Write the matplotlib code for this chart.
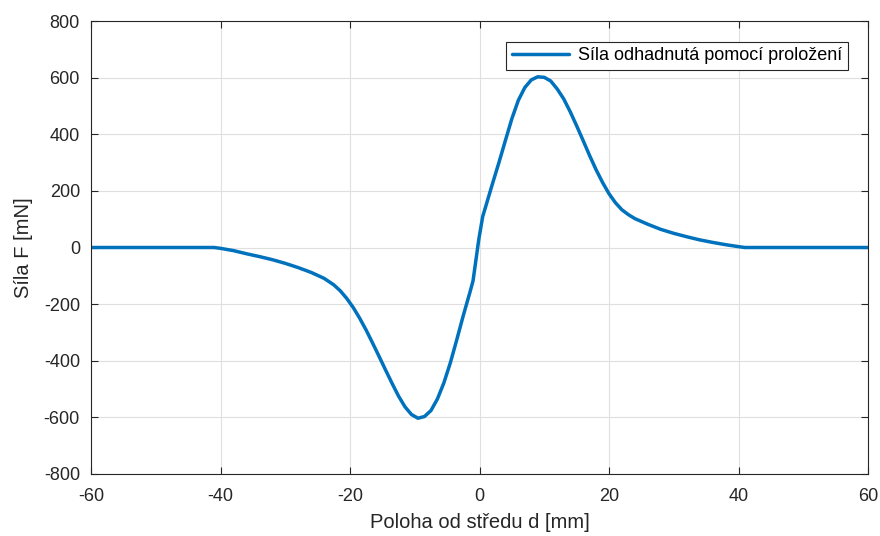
import matplotlib
matplotlib.use('Agg')
import matplotlib.pyplot as plt

# Odhad síly z proložení
poloha_mm = [-60, -50, -41, -40, -39, -38, -36, -34, -32, -30, -28, -26, -24, -22.5, -21.5,
             -20.5, -19.5, -18.5, -17.5, -16.5, -15.5, -14.5, -13.5, -12.5, -11.5,
             -10.5, -9.5, -8.5, -7.5, -6.5, -5.5, -4.5, -3.5, -2.5, -1.5, -1.0,
             -0.1, 0.5, 1, 2, 3, 4, 5, 6, 7, 8, 9, 10, 11, 12, 13, 14, 15, 16, 17,
             18, 19, 20, 21, 22, 23, 24, 26, 28, 30, 32, 34, 36, 38, 40, 41, 50, 60]
sila_mN = [0, 0, 0, -3, -7, -11, -22, -32, -43, -56, -71, -88, -109, -132, -153,
           -180, -212, -250, -292, -338, -385, -433, -480, -525, -563,
           -590, -603, -597, -576, -535, -478, -407, -325, -240, -160, -118,
           30, 110, 148, 225, 300, 378, 455, 520, 565, 592, 603, 601, 588, 560,
           525, 480, 430, 378, 325, 275, 230, 190, 158, 133, 116, 102, 82, 64,
           50, 38, 27, 18, 10, 3, 0, 0, 0]

LINE_COLOR = '#0072BD'
AX_COLOR = '#262626'

plt.rcParams['font.family'] = ['Liberation Sans', 'DejaVu Sans']
plt.rcParams['axes.unicode_minus'] = False

fig = plt.figure(figsize=(8.8, 5.36), dpi=100)
ax = fig.add_axes([91 / 880, 62 / 536, 777 / 880, 453 / 536])

ax.plot(poloha_mm, sila_mN, '-', lw=2.5, color=LINE_COLOR,
        label='Síla odhadnutá pomocí proložení',
        solid_joinstyle='round', solid_capstyle='round')

ax.set_xlim(-60, 60)
ax.set_ylim(-800, 800)
ax.set_xticks(range(-60, 61, 20))
ax.set_yticks(range(-800, 801, 200))
ax.grid(True, color='#dfdfdf', lw=0.8)
ax.set_axisbelow(True)

for s in ax.spines.values():
    s.set_color(AX_COLOR)
    s.set_linewidth(0.8)
ax.tick_params(direction='in', length=5, width=0.8, colors=AX_COLOR,
               labelsize=13, top=True, right=True)
ax.tick_params(axis='x', pad=10)
ax.tick_params(axis='y', pad=8)
for lbl in ax.get_xticklabels() + ax.get_yticklabels():
    lbl.set_color(AX_COLOR)

ax.set_xlabel('Poloha od středu d [mm]', fontsize=14.5, color=AX_COLOR, labelpad=6)
ax.set_ylabel('Síla F [mN]', fontsize=14.5, color=AX_COLOR, labelpad=8)

leg = ax.legend(loc='upper right', fontsize=13, fancybox=False, framealpha=1,
                edgecolor=AX_COLOR, handlelength=3.2, handletextpad=0.5,
                borderpad=0.3, borderaxespad=0,
                bbox_to_anchor=(757 / 777, 1 - 21 / 453))
leg.get_frame().set_linewidth(0.8)

fig.savefig('out.png', dpi=100)
